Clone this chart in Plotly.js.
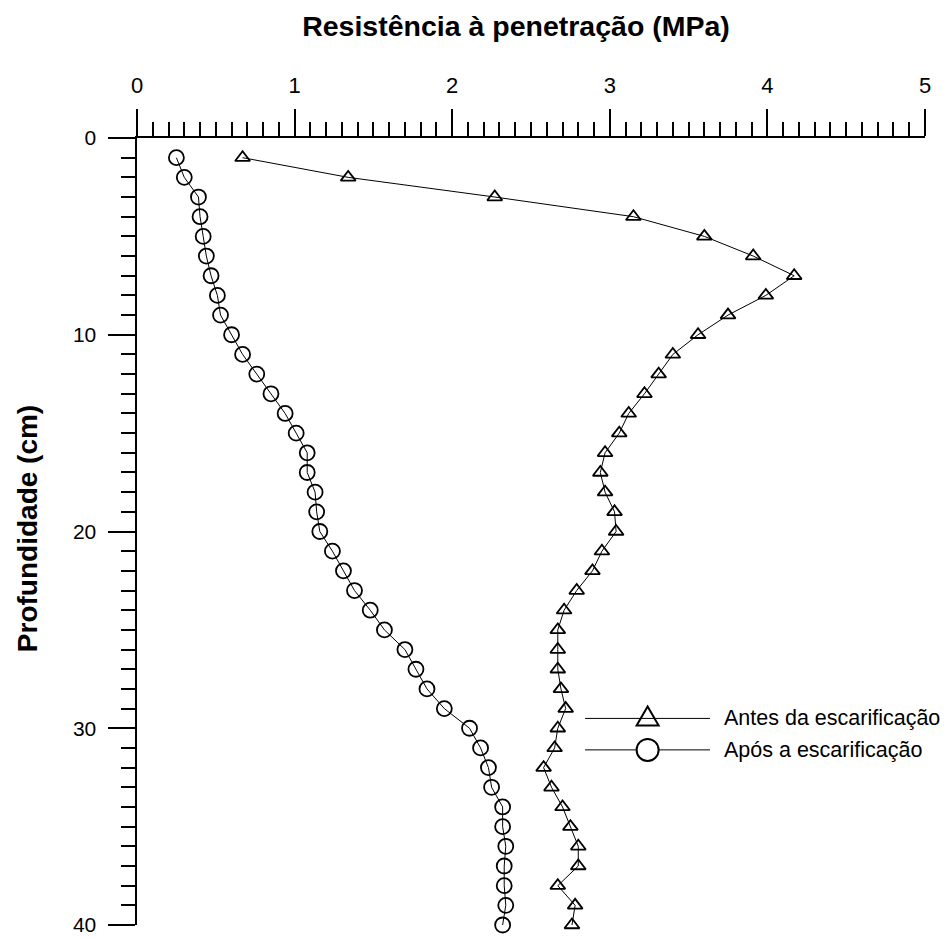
<!DOCTYPE html>
<html>
<head>
<meta charset="utf-8">
<script src="https://cdn.plot.ly/plotly-3.0.1.min.js"></script>
<style>html,body{margin:0;padding:0;background:#fff;}#chart{width:950px;height:938px;}</style>
</head>
<body>
<div id="chart"></div>
<script>
const depths = [1,2,3,4,5,6,7,8,9,10,11,12,13,14,15,16,17,18,19,20,21,22,23,24,25,26,27,28,29,30,31,32,33,34,35,36,37,38,39,40];
const antes = [0.67,1.34,2.27,3.15,3.60,3.91,4.17,3.99,3.75,3.56,3.40,3.31,3.22,3.12,3.06,2.97,2.94,2.97,3.03,3.04,2.95,2.89,2.79,2.71,2.67,2.67,2.67,2.69,2.72,2.67,2.65,2.58,2.63,2.70,2.75,2.80,2.80,2.67,2.78,2.76];
const apos = [0.25,0.30,0.39,0.40,0.42,0.44,0.47,0.51,0.53,0.60,0.67,0.76,0.85,0.94,1.01,1.08,1.08,1.13,1.14,1.16,1.24,1.31,1.38,1.48,1.57,1.70,1.77,1.84,1.95,2.11,2.18,2.23,2.25,2.32,2.32,2.34,2.33,2.33,2.34,2.32];
const seriesNames = ["Antes da escarificação","Após a escarificação"];
const xTitle = "Resistência à penetração (MPa)";
const yTitle = "Profundidade (cm)";

const FONT = "Liberation Sans, Arial, sans-serif";

const traces = [
  {x: antes, y: depths, name: seriesNames[0], mode: "lines+markers", cliponaxis: false,
   line: {color: "#000", width: 1},
   marker: {symbol: "triangle-up-open", size: 13, color: "#000", line: {width: 1.8, color: "#000"}}},
  {x: apos, y: depths, name: seriesNames[1], mode: "lines+markers", cliponaxis: false,
   line: {color: "#000", width: 1},
   marker: {symbol: "circle-open", size: 15, color: "#000", line: {width: 1.8, color: "#000"}}}
];

// custom legend placement (data units)
const legX0 = 2.843, legX1 = 3.636, legXm = 3.24, legXt = 3.71;
const legY = [29.5, 31.1];

const shapes = [];
const annotations = [];
legY.forEach((yy, i) => {
  shapes.push({type: "line", xref: "x", yref: "y", x0: legX0, x1: legX1, y0: yy, y1: yy, line: {color: "#000", width: 1}});
  if (i === 0) {
    shapes.push({type: "path", xref: "x", yref: "y", xsizemode: "pixel", ysizemode: "pixel",
      xanchor: legXm, yanchor: yy, path: "M-11,-7 L11,-7 L0,12 Z", line: {color: "#000", width: 2}, fillcolor: "rgba(0,0,0,0)"});
  } else {
    shapes.push({type: "circle", xref: "x", yref: "y", xsizemode: "pixel", ysizemode: "pixel",
      xanchor: legXm, yanchor: yy, x0: -11, x1: 11, y0: -11, y1: 11, line: {color: "#000", width: 2}, fillcolor: "#fff"});
  }
  annotations.push({xref: "x", yref: "y", x: legXt, y: yy, xanchor: "left", yanchor: "middle", showarrow: false,
    text: seriesNames[i], font: {family: FONT, size: 21.5, color: "#000"}});
});
annotations.push({xref: "paper", yref: "paper", x: 0, y: 0.503, xshift: -110, xanchor: "center", yanchor: "middle",
  showarrow: false, textangle: -90, text: "<b>" + yTitle + "</b>", font: {family: FONT, size: 28, color: "#000"}});

const layout = {
  width: 950, height: 938,
  margin: {l: 137, r: 25, t: 138, b: 13, pad: 0},
  paper_bgcolor: "#fff", plot_bgcolor: "#fff",
  showlegend: false,
  font: {family: FONT, color: "#000"},
  title: {text: "<b>" + xTitle + "</b>", font: {family: FONT, size: 28.5, color: "#000"},
          xref: "container", yref: "container", x: 516/950, xanchor: "center", y: 1 - 26/938, yanchor: "middle"},
  xaxis: {side: "top", range: [0, 5], dtick: 1, tick0: 0, showgrid: false, zeroline: false,
          showline: true, linecolor: "#000", linewidth: 2.5,
          ticks: "outside", ticklen: 27, tickwidth: 2, tickcolor: "#000", ticklabelstandoff: 7,
          ticklabeloverflow: "allow",
          tickfont: {family: FONT, size: 22, color: "#000"},
          minor: {dtick: 0.1, tick0: 0, ticks: "outside", ticklen: 14, tickwidth: 2, tickcolor: "#000", showgrid: false}},
  yaxis: {range: [40, 0], dtick: 10, tick0: 0, showgrid: false, zeroline: false,
          showline: true, linecolor: "#000", linewidth: 2.5,
          ticks: "outside", ticklen: 27, tickwidth: 2, tickcolor: "#000", ticklabelstandoff: 7,
          ticklabeloverflow: "allow",
          tickfont: {family: FONT, size: 21, color: "#000"},
          minor: {dtick: 1, tick0: 0, ticks: "outside", ticklen: 14, tickwidth: 2, tickcolor: "#000", showgrid: false}},
  shapes: shapes,
  annotations: annotations
};

Plotly.newPlot("chart", traces, layout, {staticPlot: true, displayModeBar: false});
</script>
</body>
</html>
